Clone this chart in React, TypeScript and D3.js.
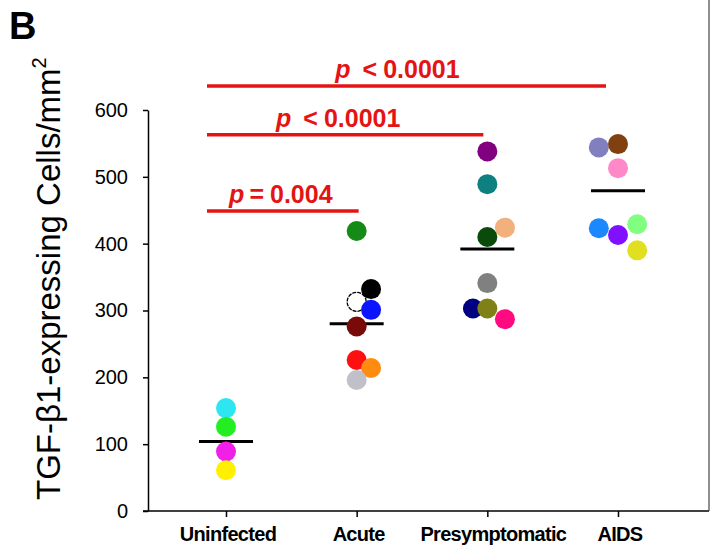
import React from 'react';
import * as d3 from 'd3';

// categories and per-animal values
const groups = ['Uninfected', 'Acute', 'Presymptomatic', 'AIDS'];

const uninfectedValues = [154, 126, 89, 61];
const uninfectedColors = ['#2ee6f2', '#22ee22', '#f020e8', '#fff000'];
const uninfectedJitter = [0, 0, 0, 0];

const acuteValues = [419, 332, 313, 301, 276, 226, 214, 196];
const acuteColors = ['#168a16', '#000000', '#ffffff', '#0a14ff', '#7a0a0a', '#ff1010', '#ff8c10', '#c0c0c8'];
const acuteJitter = [0, 0.9, 0, 0.9, 0, 0, 0.9, 0];

const presymValues = [538, 489, 424, 410, 341, 303, 303, 287];
const presymColors = ['#800080', '#0f8080', '#f2b07c', '#0a4a0a', '#808080', '#000080', '#808018', '#ff0a80'];
const presymJitter = [0, 0, 1.1, 0, 0, -0.9, 0, 1.1];

const aidsValues = [544, 549, 513, 423, 413, 429, 390];
const aidsColors = ['#8080c0', '#804010', '#ff88c8', '#1a88ff', '#8010ff', '#80ff80', '#e0e020'];
const aidsJitter = [-1.2, 0, 0, -1.2, 0, 1.2, 1.2];

const groupMeans = [104, 280, 392, 479];

const yTicks = [0, 100, 200, 300, 400, 500, 600];

// significance brackets: from group, to group, height in y units, label
const bracketFrom = ['Uninfected', 'Uninfected', 'Uninfected'];
const bracketTo = ['Acute', 'Presymptomatic', 'AIDS'];
const bracketLevel = [449, 563, 636];
const bracketOp = ['=', '<', '<'];
const bracketP = ['0.004', '0.0001', '0.0001'];

const FONT = '"Liberation Sans", Arial, sans-serif';
const RED = '#e41414';

const App = () => {
  const Width = 717;
  const Height = 555;
  const axisX = 148;
  const axisY = 511;

  const xScale = d3.scalePoint().domain(groups).range([226, 618]);
  const yScale = d3.scaleLinear().domain([0, 600]).range([axisY, 110]);

  const jitterStep = 16;
  const r = 10;

  const series = [
    { values: uninfectedValues, colors: uninfectedColors, jitter: uninfectedJitter },
    { values: acuteValues, colors: acuteColors, jitter: acuteJitter },
    { values: presymValues, colors: presymColors, jitter: presymJitter },
    { values: aidsValues, colors: aidsColors, jitter: aidsJitter },
  ];

  const dots = series.map((s, gi) =>
    s.values.map((v, i) => {
      const open = s.colors[i] === '#ffffff';
      return (
        <circle
          key={`${gi}-${i}`}
          cx={xScale(groups[gi]) + s.jitter[i] * jitterStep}
          cy={yScale(v)}
          r={open ? 9.5 : r}
          fill={s.colors[i]}
          stroke={open ? '#000' : 'none'}
          strokeWidth={1.3}
          strokeDasharray={open ? '4,1' : undefined}
        />
      );
    })
  );

  const meanLines = groupMeans.map((m, i) => (
    <line
      key={i}
      x1={xScale(groups[i]) - 27}
      x2={xScale(groups[i]) + 27}
      y1={yScale(m)}
      y2={yScale(m)}
      stroke="#000"
      strokeWidth={3}
    />
  ));

  const endNudge = [2, -4, -12];
  const brackets = bracketFrom.map((f, i) => {
    const x1 = xScale(f) - 19;
    const x2 = xScale(bracketTo[i]) + endNudge[i];
    const y = yScale(bracketLevel[i]);
    const mid = (x1 + x2) / 2 - [2, 7, 9][i];
    return (
      <g key={i}>
        <line x1={x1} x2={x2} y1={y} y2={y} stroke={RED} strokeWidth={3.5} />
        <text
          x={mid}
          y={y - 8}
          textAnchor="middle"
          fill={RED}
          style={{ fontFamily: FONT, fontWeight: 'bold', fontSize: '25px' }}
        >
          <tspan fontStyle="italic">p</tspan>
          <tspan dx={bracketOp[i] === '<' ? 12 : 5}>{bracketOp[i]}</tspan>
          <tspan dx={6}>{bracketP[i]}</tspan>
        </text>
      </g>
    );
  });

  const yAxis = d3.axisLeft(yScale).tickValues(yTicks).tickSize(5).tickSizeOuter(0).tickPadding(15);
  const xAxis = d3.axisBottom(xScale).tickFormat(() => '').tickSize(6).tickSizeOuter(0);

  return (
    <svg width={Width} height={Height} style={{ position: 'absolute', left: 0, top: 0, background: '#fff' }}>
      <text x={9} y={39} style={{ fontFamily: FONT, fontWeight: 'bold', fontSize: '38px' }}>B</text>

      <g
        transform={`translate(${axisX},0)`}
        ref={(node) => {
          if (!node) return;
          const g = d3.select(node).call(yAxis);
          g.selectAll('path, line').attr('stroke', '#000').attr('stroke-width', 1.5);
          g.selectAll('text').attr('font-family', FONT).attr('font-size', 20).attr('fill', '#000');
        }}
      />
      <g
        transform={`translate(0,${axisY})`}
        ref={(node) => {
          if (!node) return;
          const g = d3.select(node).call(xAxis);
          g.select('.domain').remove();
          g.selectAll('line').attr('stroke', '#000').attr('stroke-width', 1.5);
        }}
      />
      <line x1={143} x2={709} y1={axisY} y2={axisY} stroke="#000" strokeWidth={1.5} />
      <line x1={709} x2={709} y1={0} y2={axisY} stroke="#444" strokeWidth={1.2} />

      {groups.map((gname) => (
        <text
          key={gname}
          x={xScale(gname) + (gname === 'Presymptomatic' ? 6 : 2)}
          y={541}
          textAnchor="middle"
          style={{ fontFamily: FONT, fontWeight: 'bold', fontSize: '20px', letterSpacing: '-0.7px' }}
        >
          {gname}
        </text>
      ))}

      <text
        transform="translate(60,500) rotate(-90)"
        style={{ fontFamily: FONT, fontSize: '33px' }}
      >
        TGF-β1-expressing Cells/mm
        <tspan dy={-14} fontSize="20px">2</tspan>
      </text>

      <g>{meanLines}</g>
      <g>{dots}</g>
      <g>{brackets}</g>
    </svg>
  );
};

export default App;
